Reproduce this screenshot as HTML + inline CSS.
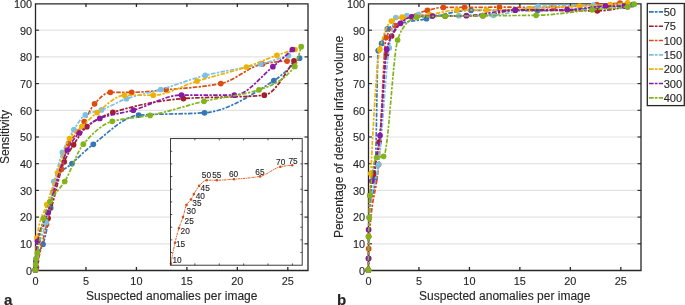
<!DOCTYPE html>
<html><head><meta charset="utf-8"><style>
html,body{margin:0;padding:0;background:#fff;width:685px;height:305px;overflow:hidden}
svg text{font-family:"Liberation Sans",sans-serif;fill:#262626;stroke:#262626;stroke-width:0.12px}
</style></head><body>
<svg width="685" height="305" viewBox="0 0 685 305" style="position:absolute;left:0;top:0;will-change:transform">
<line x1="35.5" x2="308" y1="243.8" y2="243.8" stroke="#e3e3e3" stroke-width="1.2"/>
<line x1="35.5" x2="308" y1="217.1" y2="217.1" stroke="#e3e3e3" stroke-width="1.2"/>
<line x1="35.5" x2="308" y1="190.4" y2="190.4" stroke="#e3e3e3" stroke-width="1.2"/>
<line x1="35.5" x2="308" y1="163.7" y2="163.7" stroke="#e3e3e3" stroke-width="1.2"/>
<line x1="35.5" x2="308" y1="137" y2="137" stroke="#e3e3e3" stroke-width="1.2"/>
<line x1="35.5" x2="308" y1="110.3" y2="110.3" stroke="#e3e3e3" stroke-width="1.2"/>
<line x1="35.5" x2="308" y1="83.6" y2="83.6" stroke="#e3e3e3" stroke-width="1.2"/>
<line x1="35.5" x2="308" y1="56.9" y2="56.9" stroke="#e3e3e3" stroke-width="1.2"/>
<line x1="35.5" x2="308" y1="30.2" y2="30.2" stroke="#e3e3e3" stroke-width="1.2"/>
<text x="35.5" y="284.6" font-size="10.9" text-anchor="middle">0</text>
<line x1="85.96" x2="85.96" y1="270.5" y2="267" stroke="#262626" stroke-width="1.3"/>
<line x1="85.96" x2="85.96" y1="3.5" y2="7" stroke="#262626" stroke-width="1.3"/>
<text x="85.96" y="284.6" font-size="10.9" text-anchor="middle">5</text>
<line x1="136.43" x2="136.43" y1="270.5" y2="267" stroke="#262626" stroke-width="1.3"/>
<line x1="136.43" x2="136.43" y1="3.5" y2="7" stroke="#262626" stroke-width="1.3"/>
<text x="136.43" y="284.6" font-size="10.9" text-anchor="middle">10</text>
<line x1="186.89" x2="186.89" y1="270.5" y2="267" stroke="#262626" stroke-width="1.3"/>
<line x1="186.89" x2="186.89" y1="3.5" y2="7" stroke="#262626" stroke-width="1.3"/>
<text x="186.89" y="284.6" font-size="10.9" text-anchor="middle">15</text>
<line x1="237.35" x2="237.35" y1="270.5" y2="267" stroke="#262626" stroke-width="1.3"/>
<line x1="237.35" x2="237.35" y1="3.5" y2="7" stroke="#262626" stroke-width="1.3"/>
<text x="237.35" y="284.6" font-size="10.9" text-anchor="middle">20</text>
<line x1="287.81" x2="287.81" y1="270.5" y2="267" stroke="#262626" stroke-width="1.3"/>
<line x1="287.81" x2="287.81" y1="3.5" y2="7" stroke="#262626" stroke-width="1.3"/>
<text x="287.81" y="284.6" font-size="10.9" text-anchor="middle">25</text>
<text x="32.1" y="274.85" font-size="10.9" text-anchor="end">0</text>
<line x1="35.5" x2="39" y1="243.8" y2="243.8" stroke="#262626" stroke-width="1.1"/>
<line x1="308" x2="304.5" y1="243.8" y2="243.8" stroke="#262626" stroke-width="1.1"/>
<text x="32.1" y="248.15" font-size="10.9" text-anchor="end">10</text>
<line x1="35.5" x2="39" y1="217.1" y2="217.1" stroke="#262626" stroke-width="1.1"/>
<line x1="308" x2="304.5" y1="217.1" y2="217.1" stroke="#262626" stroke-width="1.1"/>
<text x="32.1" y="221.45" font-size="10.9" text-anchor="end">20</text>
<line x1="35.5" x2="39" y1="190.4" y2="190.4" stroke="#262626" stroke-width="1.1"/>
<line x1="308" x2="304.5" y1="190.4" y2="190.4" stroke="#262626" stroke-width="1.1"/>
<text x="32.1" y="194.75" font-size="10.9" text-anchor="end">30</text>
<line x1="35.5" x2="39" y1="163.7" y2="163.7" stroke="#262626" stroke-width="1.1"/>
<line x1="308" x2="304.5" y1="163.7" y2="163.7" stroke="#262626" stroke-width="1.1"/>
<text x="32.1" y="168.05" font-size="10.9" text-anchor="end">40</text>
<line x1="35.5" x2="39" y1="137" y2="137" stroke="#262626" stroke-width="1.1"/>
<line x1="308" x2="304.5" y1="137" y2="137" stroke="#262626" stroke-width="1.1"/>
<text x="32.1" y="141.35" font-size="10.9" text-anchor="end">50</text>
<line x1="35.5" x2="39" y1="110.3" y2="110.3" stroke="#262626" stroke-width="1.1"/>
<line x1="308" x2="304.5" y1="110.3" y2="110.3" stroke="#262626" stroke-width="1.1"/>
<text x="32.1" y="114.65" font-size="10.9" text-anchor="end">60</text>
<line x1="35.5" x2="39" y1="83.6" y2="83.6" stroke="#262626" stroke-width="1.1"/>
<line x1="308" x2="304.5" y1="83.6" y2="83.6" stroke="#262626" stroke-width="1.1"/>
<text x="32.1" y="87.95" font-size="10.9" text-anchor="end">70</text>
<line x1="35.5" x2="39" y1="56.9" y2="56.9" stroke="#262626" stroke-width="1.1"/>
<line x1="308" x2="304.5" y1="56.9" y2="56.9" stroke="#262626" stroke-width="1.1"/>
<text x="32.1" y="61.25" font-size="10.9" text-anchor="end">80</text>
<line x1="35.5" x2="39" y1="30.2" y2="30.2" stroke="#262626" stroke-width="1.1"/>
<line x1="308" x2="304.5" y1="30.2" y2="30.2" stroke="#262626" stroke-width="1.1"/>
<text x="32.1" y="34.55" font-size="10.9" text-anchor="end">90</text>
<text x="32.1" y="7.85" font-size="10.9" text-anchor="end">100</text>
<path d="M35.5,3.8 H308 V270.5 H35.5 Z" fill="none" stroke="#262626" stroke-width="1.3"/>
<path d="M35.4,269.9 C35.67,265.98 35.93,260.33 36.2,259.1 C38.47,248.61 40.73,251 43,244.3 C45.57,236.71 48.13,223.26 50.7,207.9 C51.87,200.92 53.03,184.01 54.2,181.5 C60.13,168.74 66.07,169.17 72,163.5 C79.1,156.72 86.2,149.74 93.3,144.3 C108.4,132.74 123.5,116.3 138.6,115.2 C160.57,113.6 182.53,114.27 204.5,112.8 C227.6,111.25 250.7,95.39 273.8,80.7 C282.37,75.25 290.93,66.66 299.5,58.2" fill="none" stroke="rgb(52,118,184)" stroke-width="1.7" stroke-dasharray="4.5 1.4 2.3 1.4"/>
<circle cx="35.4" cy="269.9" r="2.85" fill="rgb(52,118,184)"/>
<circle cx="36.2" cy="259.1" r="2.85" fill="rgb(52,118,184)"/>
<circle cx="43" cy="244.3" r="2.85" fill="rgb(52,118,184)"/>
<circle cx="50.7" cy="207.9" r="2.85" fill="rgb(52,118,184)"/>
<circle cx="54.2" cy="181.5" r="2.85" fill="rgb(52,118,184)"/>
<circle cx="72" cy="163.5" r="2.85" fill="rgb(52,118,184)"/>
<circle cx="93.3" cy="144.3" r="2.85" fill="rgb(52,118,184)"/>
<circle cx="138.6" cy="115.2" r="2.85" fill="rgb(52,118,184)"/>
<circle cx="204.5" cy="112.8" r="2.85" fill="rgb(52,118,184)"/>
<circle cx="273.8" cy="80.7" r="2.85" fill="rgb(52,118,184)"/>
<circle cx="299.5" cy="58.2" r="2.85" fill="rgb(52,118,184)"/>
<path d="M35.4,269.9 C35.77,268.87 36.13,265.14 36.5,261 C36.87,256.86 37.23,242.27 37.6,240.5 C41.1,223.57 44.6,227.38 48.1,218.3 C53.47,204.38 58.83,174.26 64.2,161.8 C67.33,154.52 70.47,149.71 73.6,144.8 C78.03,137.86 82.47,130.34 86.9,126.7 C95.57,119.59 104.23,115.1 112.9,112.4 C136.4,105.08 159.9,100.25 183.4,98.6 C210.37,96.71 237.33,97.75 264.3,95.2 C274.2,94.26 284.1,75.23 294,60.8" fill="none" stroke="rgb(162,30,42)" stroke-width="1.7" stroke-dasharray="4.5 1.4 2.3 1.4"/>
<circle cx="35.4" cy="269.9" r="2.85" fill="rgb(162,30,42)"/>
<circle cx="36.5" cy="261" r="2.85" fill="rgb(162,30,42)"/>
<circle cx="37.6" cy="240.5" r="2.85" fill="rgb(162,30,42)"/>
<circle cx="48.1" cy="218.3" r="2.85" fill="rgb(162,30,42)"/>
<circle cx="64.2" cy="161.8" r="2.85" fill="rgb(162,30,42)"/>
<circle cx="73.6" cy="144.8" r="2.85" fill="rgb(162,30,42)"/>
<circle cx="86.9" cy="126.7" r="2.85" fill="rgb(162,30,42)"/>
<circle cx="112.9" cy="112.4" r="2.85" fill="rgb(162,30,42)"/>
<circle cx="183.4" cy="98.6" r="2.85" fill="rgb(162,30,42)"/>
<circle cx="264.3" cy="95.2" r="2.85" fill="rgb(162,30,42)"/>
<circle cx="294" cy="60.8" r="2.85" fill="rgb(162,30,42)"/>
<path d="M36.4,267.3 C39.77,254.15 43.13,239.58 46.5,224.2 C48.7,214.15 50.9,199.93 53.1,192.1 C55.87,182.26 58.63,177.85 61.4,169.2 C63.8,161.69 66.2,147.85 68.6,143.4 C71.7,137.65 74.8,136.52 77.9,132.1 C80,129.11 82.1,125.05 84.2,121.5 C87.67,115.64 91.13,107.45 94.6,103.8 C99.83,98.29 105.07,92.3 110.3,92.3 C117.43,92.3 124.57,92.3 131.7,92.3 C143.17,92.3 154.63,90.8 166.1,89.8 C184.33,88.21 202.57,87.02 220.8,83.6 C234.7,80.99 248.6,66.49 262.5,64 C270.7,62.53 278.9,61.1 287.1,61.1" fill="none" stroke="rgb(220,76,16)" stroke-width="1.7" stroke-dasharray="4.5 1.4 2.3 1.4"/>
<circle cx="36.4" cy="267.3" r="2.85" fill="rgb(220,76,16)"/>
<circle cx="46.5" cy="224.2" r="2.85" fill="rgb(220,76,16)"/>
<circle cx="53.1" cy="192.1" r="2.85" fill="rgb(220,76,16)"/>
<circle cx="61.4" cy="169.2" r="2.85" fill="rgb(220,76,16)"/>
<circle cx="68.6" cy="143.4" r="2.85" fill="rgb(220,76,16)"/>
<circle cx="77.9" cy="132.1" r="2.85" fill="rgb(220,76,16)"/>
<circle cx="84.2" cy="121.5" r="2.85" fill="rgb(220,76,16)"/>
<circle cx="94.6" cy="103.8" r="2.85" fill="rgb(220,76,16)"/>
<circle cx="110.3" cy="92.3" r="2.85" fill="rgb(220,76,16)"/>
<circle cx="131.7" cy="92.3" r="2.85" fill="rgb(220,76,16)"/>
<circle cx="166.1" cy="89.8" r="2.85" fill="rgb(220,76,16)"/>
<circle cx="220.8" cy="83.6" r="2.85" fill="rgb(220,76,16)"/>
<circle cx="262.5" cy="64" r="2.85" fill="rgb(220,76,16)"/>
<circle cx="287.1" cy="61.1" r="2.85" fill="rgb(220,76,16)"/>
<path d="M35.4,269.9 C35.7,265.69 36,260.03 36.3,258 C39.57,235.85 42.83,236.18 46.1,222.3 C48.8,210.83 51.5,192.75 54.2,181.5 C56.93,170.11 59.67,159.45 62.4,152.4 C66.23,142.52 70.07,135.7 73.9,129.7 C77.7,123.75 81.5,116.87 85.3,114.9 C90.7,112.11 96.1,111.85 101.5,109.9 C109.8,106.9 118.1,101.52 126.4,98.7 C137.87,94.8 149.33,92.82 160.8,89.5 C175.6,85.22 190.4,79.12 205.2,75.4 C223.73,70.74 242.27,68.67 260.8,64 C270,61.68 279.2,58.65 288.4,55.5" fill="none" stroke="rgb(125,192,228)" stroke-width="1.7" stroke-dasharray="4.5 1.4 2.3 1.4"/>
<circle cx="35.4" cy="269.9" r="2.85" fill="rgb(125,192,228)"/>
<circle cx="36.3" cy="258" r="2.85" fill="rgb(125,192,228)"/>
<circle cx="46.1" cy="222.3" r="2.85" fill="rgb(125,192,228)"/>
<circle cx="54.2" cy="181.5" r="2.85" fill="rgb(125,192,228)"/>
<circle cx="62.4" cy="152.4" r="2.85" fill="rgb(125,192,228)"/>
<circle cx="73.9" cy="129.7" r="2.85" fill="rgb(125,192,228)"/>
<circle cx="85.3" cy="114.9" r="2.85" fill="rgb(125,192,228)"/>
<circle cx="101.5" cy="109.9" r="2.85" fill="rgb(125,192,228)"/>
<circle cx="126.4" cy="98.7" r="2.85" fill="rgb(125,192,228)"/>
<circle cx="160.8" cy="89.5" r="2.85" fill="rgb(125,192,228)"/>
<circle cx="205.2" cy="75.4" r="2.85" fill="rgb(125,192,228)"/>
<circle cx="260.8" cy="64" r="2.85" fill="rgb(125,192,228)"/>
<circle cx="288.4" cy="55.5" r="2.85" fill="rgb(125,192,228)"/>
<path d="M35.4,269.9 C35.9,258.09 36.4,241.54 36.9,238 C40.2,214.61 43.5,215.04 46.8,204.6 C50.37,193.32 53.93,183.2 57.5,172.8 C61.5,161.14 65.5,144.26 69.5,138.5 C73.6,132.6 77.7,130.56 81.8,126.7 C86.9,121.9 92,116.49 97.1,112.6 C106.23,105.63 115.37,95.36 124.5,95.3 C134.07,95.23 143.63,95.26 153.2,95.2 C167.83,95.11 182.47,85.53 197.1,81.1 C213.53,76.12 229.97,72.45 246.4,67 C256.57,63.63 266.73,58.82 276.9,55.3 C282.93,53.21 288.97,51.29 295,49.5" fill="none" stroke="rgb(239,178,4)" stroke-width="1.7" stroke-dasharray="4.5 1.4 2.3 1.4"/>
<circle cx="35.4" cy="269.9" r="2.85" fill="rgb(239,178,4)"/>
<circle cx="36.9" cy="238" r="2.85" fill="rgb(239,178,4)"/>
<circle cx="46.8" cy="204.6" r="2.85" fill="rgb(239,178,4)"/>
<circle cx="57.5" cy="172.8" r="2.85" fill="rgb(239,178,4)"/>
<circle cx="69.5" cy="138.5" r="2.85" fill="rgb(239,178,4)"/>
<circle cx="81.8" cy="126.7" r="2.85" fill="rgb(239,178,4)"/>
<circle cx="97.1" cy="112.6" r="2.85" fill="rgb(239,178,4)"/>
<circle cx="124.5" cy="95.3" r="2.85" fill="rgb(239,178,4)"/>
<circle cx="153.2" cy="95.2" r="2.85" fill="rgb(239,178,4)"/>
<circle cx="197.1" cy="81.1" r="2.85" fill="rgb(239,178,4)"/>
<circle cx="246.4" cy="67" r="2.85" fill="rgb(239,178,4)"/>
<circle cx="276.9" cy="55.3" r="2.85" fill="rgb(239,178,4)"/>
<circle cx="295" cy="49.5" r="2.85" fill="rgb(239,178,4)"/>
<path d="M35.4,269.9 C35.57,269.9 35.73,269.2 35.9,267.2 C35.93,266.8 35.97,262.61 36,261.8 C36.57,248.04 37.13,244.38 37.7,241.3 C41.03,223.17 44.37,222.53 47.7,212.5 C54.23,192.83 60.77,162.36 67.3,150 C71.33,142.37 75.37,136.93 79.4,133 C86.2,126.37 93,120.98 99.8,118.4 C110.97,114.16 122.13,113.25 133.3,110.2 C149.37,105.82 165.43,95.1 181.5,95.1 C199.1,95.1 216.7,95.2 234.3,95.2 C247.17,95.2 260.03,77.14 272.9,66.7 C279.4,61.42 285.9,55.55 292.4,49.5" fill="none" stroke="rgb(135,25,165)" stroke-width="1.7" stroke-dasharray="4.5 1.4 2.3 1.4"/>
<circle cx="35.4" cy="269.9" r="2.85" fill="rgb(135,25,165)"/>
<circle cx="35.9" cy="267.2" r="2.85" fill="rgb(135,25,165)"/>
<circle cx="36" cy="261.8" r="2.85" fill="rgb(135,25,165)"/>
<circle cx="37.7" cy="241.3" r="2.85" fill="rgb(135,25,165)"/>
<circle cx="47.7" cy="212.5" r="2.85" fill="rgb(135,25,165)"/>
<circle cx="67.3" cy="150" r="2.85" fill="rgb(135,25,165)"/>
<circle cx="79.4" cy="133" r="2.85" fill="rgb(135,25,165)"/>
<circle cx="99.8" cy="118.4" r="2.85" fill="rgb(135,25,165)"/>
<circle cx="133.3" cy="110.2" r="2.85" fill="rgb(135,25,165)"/>
<circle cx="181.5" cy="95.1" r="2.85" fill="rgb(135,25,165)"/>
<circle cx="234.3" cy="95.2" r="2.85" fill="rgb(135,25,165)"/>
<circle cx="272.9" cy="66.7" r="2.85" fill="rgb(135,25,165)"/>
<circle cx="292.4" cy="49.5" r="2.85" fill="rgb(135,25,165)"/>
<path d="M35.4,269.9 C35.5,267.78 35.6,265.77 35.7,264.4 C35.87,262.11 36.03,260.34 36.2,259.1 C36.57,256.38 36.93,255.18 37.3,253.2 C39.43,241.69 41.57,225.9 43.7,218.3 C45.8,210.82 47.9,205.56 50,201.6 C54.9,192.37 59.8,189.41 64.7,181.5 C70.9,171.49 77.1,151.46 83.3,144.2 C92.97,132.89 102.63,123.9 112.3,121.3 C124.9,117.92 137.5,117.83 150.1,115.4 C168.07,111.94 186.03,105.48 204,101.3 C222.33,97.04 240.67,95.82 259,89.8 C270.93,85.88 282.87,81.62 294.8,66.5 C296.93,63.8 299.07,54.09 301.2,46.7" fill="none" stroke="rgb(130,180,25)" stroke-width="1.7" stroke-dasharray="4.5 1.4 2.3 1.4"/>
<circle cx="35.4" cy="269.9" r="2.85" fill="rgb(130,180,25)"/>
<circle cx="35.7" cy="264.4" r="2.85" fill="rgb(130,180,25)"/>
<circle cx="36.2" cy="259.1" r="2.85" fill="rgb(130,180,25)"/>
<circle cx="37.3" cy="253.2" r="2.85" fill="rgb(130,180,25)"/>
<circle cx="43.7" cy="218.3" r="2.85" fill="rgb(130,180,25)"/>
<circle cx="50" cy="201.6" r="2.85" fill="rgb(130,180,25)"/>
<circle cx="64.7" cy="181.5" r="2.85" fill="rgb(130,180,25)"/>
<circle cx="83.3" cy="144.2" r="2.85" fill="rgb(130,180,25)"/>
<circle cx="112.3" cy="121.3" r="2.85" fill="rgb(130,180,25)"/>
<circle cx="150.1" cy="115.4" r="2.85" fill="rgb(130,180,25)"/>
<circle cx="204" cy="101.3" r="2.85" fill="rgb(130,180,25)"/>
<circle cx="259" cy="89.8" r="2.85" fill="rgb(130,180,25)"/>
<circle cx="294.8" cy="66.5" r="2.85" fill="rgb(130,180,25)"/>
<circle cx="301.2" cy="46.7" r="2.85" fill="rgb(130,180,25)"/>
<text x="171.75" y="299.6" font-size="12.0" text-anchor="middle">Suspected anomalies per image</text>
<line x1="368.5" x2="641" y1="243.8" y2="243.8" stroke="#e3e3e3" stroke-width="1.2"/>
<line x1="368.5" x2="641" y1="217.1" y2="217.1" stroke="#e3e3e3" stroke-width="1.2"/>
<line x1="368.5" x2="641" y1="190.4" y2="190.4" stroke="#e3e3e3" stroke-width="1.2"/>
<line x1="368.5" x2="641" y1="163.7" y2="163.7" stroke="#e3e3e3" stroke-width="1.2"/>
<line x1="368.5" x2="641" y1="137" y2="137" stroke="#e3e3e3" stroke-width="1.2"/>
<line x1="368.5" x2="641" y1="110.3" y2="110.3" stroke="#e3e3e3" stroke-width="1.2"/>
<line x1="368.5" x2="641" y1="83.6" y2="83.6" stroke="#e3e3e3" stroke-width="1.2"/>
<line x1="368.5" x2="641" y1="56.9" y2="56.9" stroke="#e3e3e3" stroke-width="1.2"/>
<line x1="368.5" x2="641" y1="30.2" y2="30.2" stroke="#e3e3e3" stroke-width="1.2"/>
<text x="368.5" y="284.6" font-size="10.9" text-anchor="middle">0</text>
<line x1="418.96" x2="418.96" y1="270.5" y2="267" stroke="#262626" stroke-width="1.3"/>
<line x1="418.96" x2="418.96" y1="3.5" y2="7" stroke="#262626" stroke-width="1.3"/>
<text x="418.96" y="284.6" font-size="10.9" text-anchor="middle">5</text>
<line x1="469.43" x2="469.43" y1="270.5" y2="267" stroke="#262626" stroke-width="1.3"/>
<line x1="469.43" x2="469.43" y1="3.5" y2="7" stroke="#262626" stroke-width="1.3"/>
<text x="469.43" y="284.6" font-size="10.9" text-anchor="middle">10</text>
<line x1="519.89" x2="519.89" y1="270.5" y2="267" stroke="#262626" stroke-width="1.3"/>
<line x1="519.89" x2="519.89" y1="3.5" y2="7" stroke="#262626" stroke-width="1.3"/>
<text x="519.89" y="284.6" font-size="10.9" text-anchor="middle">15</text>
<line x1="570.35" x2="570.35" y1="270.5" y2="267" stroke="#262626" stroke-width="1.3"/>
<line x1="570.35" x2="570.35" y1="3.5" y2="7" stroke="#262626" stroke-width="1.3"/>
<text x="570.35" y="284.6" font-size="10.9" text-anchor="middle">20</text>
<line x1="620.81" x2="620.81" y1="270.5" y2="267" stroke="#262626" stroke-width="1.3"/>
<line x1="620.81" x2="620.81" y1="3.5" y2="7" stroke="#262626" stroke-width="1.3"/>
<text x="620.81" y="284.6" font-size="10.9" text-anchor="middle">25</text>
<text x="365.1" y="274.85" font-size="10.9" text-anchor="end">0</text>
<line x1="368.5" x2="372" y1="243.8" y2="243.8" stroke="#262626" stroke-width="1.1"/>
<line x1="641" x2="637.5" y1="243.8" y2="243.8" stroke="#262626" stroke-width="1.1"/>
<text x="365.1" y="248.15" font-size="10.9" text-anchor="end">10</text>
<line x1="368.5" x2="372" y1="217.1" y2="217.1" stroke="#262626" stroke-width="1.1"/>
<line x1="641" x2="637.5" y1="217.1" y2="217.1" stroke="#262626" stroke-width="1.1"/>
<text x="365.1" y="221.45" font-size="10.9" text-anchor="end">20</text>
<line x1="368.5" x2="372" y1="190.4" y2="190.4" stroke="#262626" stroke-width="1.1"/>
<line x1="641" x2="637.5" y1="190.4" y2="190.4" stroke="#262626" stroke-width="1.1"/>
<text x="365.1" y="194.75" font-size="10.9" text-anchor="end">30</text>
<line x1="368.5" x2="372" y1="163.7" y2="163.7" stroke="#262626" stroke-width="1.1"/>
<line x1="641" x2="637.5" y1="163.7" y2="163.7" stroke="#262626" stroke-width="1.1"/>
<text x="365.1" y="168.05" font-size="10.9" text-anchor="end">40</text>
<line x1="368.5" x2="372" y1="137" y2="137" stroke="#262626" stroke-width="1.1"/>
<line x1="641" x2="637.5" y1="137" y2="137" stroke="#262626" stroke-width="1.1"/>
<text x="365.1" y="141.35" font-size="10.9" text-anchor="end">50</text>
<line x1="368.5" x2="372" y1="110.3" y2="110.3" stroke="#262626" stroke-width="1.1"/>
<line x1="641" x2="637.5" y1="110.3" y2="110.3" stroke="#262626" stroke-width="1.1"/>
<text x="365.1" y="114.65" font-size="10.9" text-anchor="end">60</text>
<line x1="368.5" x2="372" y1="83.6" y2="83.6" stroke="#262626" stroke-width="1.1"/>
<line x1="641" x2="637.5" y1="83.6" y2="83.6" stroke="#262626" stroke-width="1.1"/>
<text x="365.1" y="87.95" font-size="10.9" text-anchor="end">70</text>
<line x1="368.5" x2="372" y1="56.9" y2="56.9" stroke="#262626" stroke-width="1.1"/>
<line x1="641" x2="637.5" y1="56.9" y2="56.9" stroke="#262626" stroke-width="1.1"/>
<text x="365.1" y="61.25" font-size="10.9" text-anchor="end">80</text>
<line x1="368.5" x2="372" y1="30.2" y2="30.2" stroke="#262626" stroke-width="1.1"/>
<line x1="641" x2="637.5" y1="30.2" y2="30.2" stroke="#262626" stroke-width="1.1"/>
<text x="365.1" y="34.55" font-size="10.9" text-anchor="end">90</text>
<text x="365.1" y="7.85" font-size="10.9" text-anchor="end">100</text>
<path d="M368.5,3.8 H641 V270.5 H368.5 Z" fill="none" stroke="#262626" stroke-width="1.3"/>
<path d="M368.3,270.2 C368.4,267.23 368.5,263.24 368.6,258.4 C368.8,248.71 369,220.61 369.2,217.5 C371.17,186.97 373.13,202.73 375.1,178.5 C376.13,165.77 377.17,54.67 378.2,50.5 C379.33,45.93 380.47,45.97 381.6,43.4 C383.53,39.02 385.47,29.93 387.4,28.8 C400.43,21.16 413.47,21.55 426.5,18.7 C441.33,15.45 456.17,10.3 471,10.3 C493.17,10.3 515.33,10.6 537.5,10.6 C569.1,10.6 600.7,7.91 632.3,4.7" fill="none" stroke="rgb(52,118,184)" stroke-width="1.7" stroke-dasharray="4.5 1.4 2.3 1.4"/>
<circle cx="368.3" cy="270.2" r="2.85" fill="rgb(52,118,184)"/>
<circle cx="368.6" cy="258.4" r="2.85" fill="rgb(52,118,184)"/>
<circle cx="369.2" cy="217.5" r="2.85" fill="rgb(52,118,184)"/>
<circle cx="375.1" cy="178.5" r="2.85" fill="rgb(52,118,184)"/>
<circle cx="378.2" cy="50.5" r="2.85" fill="rgb(52,118,184)"/>
<circle cx="381.6" cy="43.4" r="2.85" fill="rgb(52,118,184)"/>
<circle cx="387.4" cy="28.8" r="2.85" fill="rgb(52,118,184)"/>
<circle cx="426.5" cy="18.7" r="2.85" fill="rgb(52,118,184)"/>
<circle cx="471" cy="10.3" r="2.85" fill="rgb(52,118,184)"/>
<circle cx="537.5" cy="10.6" r="2.85" fill="rgb(52,118,184)"/>
<circle cx="632.3" cy="4.7" r="2.85" fill="rgb(52,118,184)"/>
<path d="M368.3,270.2 C368.4,257.45 368.5,242.08 368.6,236.5 C369.03,212.33 369.47,200.11 369.9,195.5 C371.2,181.68 372.5,181.41 373.8,174 C375.6,163.74 377.4,156.1 379.2,142 C381.6,123.19 384,67.48 386.4,54.6 C388.13,45.29 389.87,38.94 391.6,36 C398.33,24.58 405.07,17.1 411.8,16.8 C422.9,16.3 434,16.26 445.1,16.1 C457.7,15.92 470.3,15.96 482.9,15.7 C493.67,15.48 504.43,10.2 515.2,10.2 C542.57,10.2 569.93,10.8 597.3,10.8 C607.4,10.8 617.5,8.45 627.6,6.7" fill="none" stroke="rgb(162,30,42)" stroke-width="1.7" stroke-dasharray="4.5 1.4 2.3 1.4"/>
<circle cx="368.3" cy="270.2" r="2.85" fill="rgb(162,30,42)"/>
<circle cx="368.6" cy="236.5" r="2.85" fill="rgb(162,30,42)"/>
<circle cx="369.9" cy="195.5" r="2.85" fill="rgb(162,30,42)"/>
<circle cx="373.8" cy="174" r="2.85" fill="rgb(162,30,42)"/>
<circle cx="379.2" cy="142" r="2.85" fill="rgb(162,30,42)"/>
<circle cx="386.4" cy="54.6" r="2.85" fill="rgb(162,30,42)"/>
<circle cx="391.6" cy="36" r="2.85" fill="rgb(162,30,42)"/>
<circle cx="411.8" cy="16.8" r="2.85" fill="rgb(162,30,42)"/>
<circle cx="445.1" cy="16.1" r="2.85" fill="rgb(162,30,42)"/>
<circle cx="482.9" cy="15.7" r="2.85" fill="rgb(162,30,42)"/>
<circle cx="515.2" cy="10.2" r="2.85" fill="rgb(162,30,42)"/>
<circle cx="597.3" cy="10.8" r="2.85" fill="rgb(162,30,42)"/>
<circle cx="627.6" cy="6.7" r="2.85" fill="rgb(162,30,42)"/>
<path d="M368.3,270.2 C368.43,262.8 368.57,251.22 368.7,248.7 C372,186.35 375.3,202.32 378.6,164.6 C381.13,135.64 383.67,43.91 386.2,37.5 C389.2,29.91 392.2,27.79 395.2,25.5 C405.93,17.32 416.67,13.16 427.4,10.4 C432.7,9.04 438,7.4 443.3,7.4 C450.4,7.4 457.5,7.4 464.6,7.4 C476.23,7.4 487.87,7.2 499.5,7.2 C517.5,7.2 535.5,7.4 553.5,7.4 C567.9,7.4 582.3,5.53 596.7,4.6 C604.47,4.1 612.23,3.6 620,3.1" fill="none" stroke="rgb(220,76,16)" stroke-width="1.7" stroke-dasharray="4.5 1.4 2.3 1.4"/>
<circle cx="368.3" cy="270.2" r="2.85" fill="rgb(220,76,16)"/>
<circle cx="368.7" cy="248.7" r="2.85" fill="rgb(220,76,16)"/>
<circle cx="378.6" cy="164.6" r="2.85" fill="rgb(220,76,16)"/>
<circle cx="386.2" cy="37.5" r="2.85" fill="rgb(220,76,16)"/>
<circle cx="395.2" cy="25.5" r="2.85" fill="rgb(220,76,16)"/>
<circle cx="427.4" cy="10.4" r="2.85" fill="rgb(220,76,16)"/>
<circle cx="443.3" cy="7.4" r="2.85" fill="rgb(220,76,16)"/>
<circle cx="464.6" cy="7.4" r="2.85" fill="rgb(220,76,16)"/>
<circle cx="499.5" cy="7.2" r="2.85" fill="rgb(220,76,16)"/>
<circle cx="553.5" cy="7.4" r="2.85" fill="rgb(220,76,16)"/>
<circle cx="596.7" cy="4.6" r="2.85" fill="rgb(220,76,16)"/>
<circle cx="620" cy="3.1" r="2.85" fill="rgb(220,76,16)"/>
<path d="M368.3,270.2 C368.6,251.25 368.9,221.48 369.2,217.5 C372.33,175.89 375.47,187.79 378.6,164.6 C382.13,138.45 385.67,70.14 389.2,47.9 C391.4,34.05 393.6,18.33 395.8,17.5 C399.5,16.11 403.2,15.87 406.9,15.5 C410.73,15.11 414.57,14.7 418.4,14.7 C431.87,14.7 445.33,15.7 458.8,15.7 C470.33,15.7 481.87,15.54 493.4,15.3 C508.33,14.99 523.27,6.86 538.2,6.3 C556.6,5.61 575,5.2 593.4,5.2 C602.57,5.2 611.73,5.81 620.9,6.4" fill="none" stroke="rgb(125,192,228)" stroke-width="1.7" stroke-dasharray="4.5 1.4 2.3 1.4"/>
<circle cx="368.3" cy="270.2" r="2.85" fill="rgb(125,192,228)"/>
<circle cx="369.2" cy="217.5" r="2.85" fill="rgb(125,192,228)"/>
<circle cx="378.6" cy="164.6" r="2.85" fill="rgb(125,192,228)"/>
<circle cx="389.2" cy="47.9" r="2.85" fill="rgb(125,192,228)"/>
<circle cx="395.8" cy="17.5" r="2.85" fill="rgb(125,192,228)"/>
<circle cx="406.9" cy="15.5" r="2.85" fill="rgb(125,192,228)"/>
<circle cx="418.4" cy="14.7" r="2.85" fill="rgb(125,192,228)"/>
<circle cx="458.8" cy="15.7" r="2.85" fill="rgb(125,192,228)"/>
<circle cx="493.4" cy="15.3" r="2.85" fill="rgb(125,192,228)"/>
<circle cx="538.2" cy="6.3" r="2.85" fill="rgb(125,192,228)"/>
<circle cx="593.4" cy="5.2" r="2.85" fill="rgb(125,192,228)"/>
<circle cx="620.9" cy="6.4" r="2.85" fill="rgb(125,192,228)"/>
<path d="M368.3,270.2 C368.4,257.96 368.5,241.87 368.6,236.5 C369.33,197.11 370.07,188.19 370.8,173.5 C373.8,113.4 376.8,62.21 379.8,49.4 C383.67,32.88 387.53,23.51 391.4,21.1 C395,18.86 398.6,17.78 402.2,17.2 C411.3,15.75 420.4,15.78 429.5,14.7 C438.67,13.62 447.83,10.1 457,10.1 C466.83,10.1 476.67,10.1 486.5,10.1 C500.97,10.1 515.43,9.28 529.9,8.7 C546.4,8.04 562.9,6.93 579.4,6.1 C589.63,5.58 599.87,5.3 610.1,4.6 C615.93,4.2 621.77,3.51 627.6,2.8" fill="none" stroke="rgb(239,178,4)" stroke-width="1.7" stroke-dasharray="4.5 1.4 2.3 1.4"/>
<circle cx="368.3" cy="270.2" r="2.85" fill="rgb(239,178,4)"/>
<circle cx="368.6" cy="236.5" r="2.85" fill="rgb(239,178,4)"/>
<circle cx="370.8" cy="173.5" r="2.85" fill="rgb(239,178,4)"/>
<circle cx="379.8" cy="49.4" r="2.85" fill="rgb(239,178,4)"/>
<circle cx="391.4" cy="21.1" r="2.85" fill="rgb(239,178,4)"/>
<circle cx="402.2" cy="17.2" r="2.85" fill="rgb(239,178,4)"/>
<circle cx="429.5" cy="14.7" r="2.85" fill="rgb(239,178,4)"/>
<circle cx="457" cy="10.1" r="2.85" fill="rgb(239,178,4)"/>
<circle cx="486.5" cy="10.1" r="2.85" fill="rgb(239,178,4)"/>
<circle cx="529.9" cy="8.7" r="2.85" fill="rgb(239,178,4)"/>
<circle cx="579.4" cy="6.1" r="2.85" fill="rgb(239,178,4)"/>
<circle cx="610.1" cy="4.6" r="2.85" fill="rgb(239,178,4)"/>
<circle cx="627.6" cy="2.8" r="2.85" fill="rgb(239,178,4)"/>
<path d="M368.3,270.2 C368.37,270.2 368.43,265.44 368.5,258.4 C368.53,254.88 368.57,231 368.6,229.7 C369.7,186.71 370.8,190.65 371.9,181.1 C374.6,157.67 377.3,156.98 380,135.6 C382.23,117.92 384.47,57.47 386.7,49.4 C391.27,32.89 395.83,27.39 400.4,23.4 C404.2,20.08 408,17.07 411.8,16.8 C418.7,16.32 425.6,16.23 432.5,16.1 C443.8,15.89 455.1,15.93 466.4,15.7 C482.67,15.37 498.93,10.02 515.2,9.9 C532.53,9.77 549.87,9.83 567.2,9.7 C579.97,9.6 592.73,6.32 605.5,6.2 C611.83,6.14 618.17,6.1 624.5,6.1" fill="none" stroke="rgb(135,25,165)" stroke-width="1.7" stroke-dasharray="4.5 1.4 2.3 1.4"/>
<circle cx="368.3" cy="270.2" r="2.85" fill="rgb(135,25,165)"/>
<circle cx="368.5" cy="258.4" r="2.85" fill="rgb(135,25,165)"/>
<circle cx="368.6" cy="229.7" r="2.85" fill="rgb(135,25,165)"/>
<circle cx="371.9" cy="181.1" r="2.85" fill="rgb(135,25,165)"/>
<circle cx="380" cy="135.6" r="2.85" fill="rgb(135,25,165)"/>
<circle cx="386.7" cy="49.4" r="2.85" fill="rgb(135,25,165)"/>
<circle cx="400.4" cy="23.4" r="2.85" fill="rgb(135,25,165)"/>
<circle cx="411.8" cy="16.8" r="2.85" fill="rgb(135,25,165)"/>
<circle cx="432.5" cy="16.1" r="2.85" fill="rgb(135,25,165)"/>
<circle cx="466.4" cy="15.7" r="2.85" fill="rgb(135,25,165)"/>
<circle cx="515.2" cy="9.9" r="2.85" fill="rgb(135,25,165)"/>
<circle cx="567.2" cy="9.7" r="2.85" fill="rgb(135,25,165)"/>
<circle cx="605.5" cy="6.2" r="2.85" fill="rgb(135,25,165)"/>
<circle cx="624.5" cy="6.1" r="2.85" fill="rgb(135,25,165)"/>
<path d="M368.3,270.2 C368.4,256.28 368.5,241.77 368.6,236.5 C368.8,225.96 369,223.81 369.2,217.5 C369.43,210.14 369.67,198.26 369.9,195.5 C372.13,169.08 374.37,158.25 376.6,157.5 C378.93,156.72 381.27,157.01 383.6,156.3 C388.27,154.88 392.93,55.76 397.6,40.1 C399.07,35.18 400.53,32.22 402,29.7 C404,26.27 406,23.5 408,21.8 C409.73,20.33 411.47,19.3 413.2,18.5 C414.37,17.96 415.53,17.3 416.7,17.2 C426.17,16.36 435.63,16.26 445.1,16.1 C457.7,15.88 470.3,15.81 482.9,15.7 C500.63,15.54 518.37,15.55 536.1,15.3 C554.77,15.04 573.43,11.52 592.1,9.8 C603.93,8.71 615.77,8.66 627.6,6.7 C629.8,6.34 632,5.13 634.2,4.2" fill="none" stroke="rgb(130,180,25)" stroke-width="1.7" stroke-dasharray="4.5 1.4 2.3 1.4"/>
<circle cx="368.3" cy="270.2" r="2.85" fill="rgb(130,180,25)"/>
<circle cx="368.6" cy="236.5" r="2.85" fill="rgb(130,180,25)"/>
<circle cx="369.2" cy="217.5" r="2.85" fill="rgb(130,180,25)"/>
<circle cx="369.9" cy="195.5" r="2.85" fill="rgb(130,180,25)"/>
<circle cx="376.6" cy="157.5" r="2.85" fill="rgb(130,180,25)"/>
<circle cx="383.6" cy="156.3" r="2.85" fill="rgb(130,180,25)"/>
<circle cx="397.6" cy="40.1" r="2.85" fill="rgb(130,180,25)"/>
<circle cx="416.7" cy="17.2" r="2.85" fill="rgb(130,180,25)"/>
<circle cx="445.1" cy="16.1" r="2.85" fill="rgb(130,180,25)"/>
<circle cx="482.9" cy="15.7" r="2.85" fill="rgb(130,180,25)"/>
<circle cx="536.1" cy="15.3" r="2.85" fill="rgb(130,180,25)"/>
<circle cx="592.1" cy="9.8" r="2.85" fill="rgb(130,180,25)"/>
<circle cx="627.6" cy="6.7" r="2.85" fill="rgb(130,180,25)"/>
<circle cx="634.2" cy="4.2" r="2.85" fill="rgb(130,180,25)"/>
<text x="504.75" y="299.6" font-size="12.0" text-anchor="middle">Suspected anomalies per image</text>
<text transform="translate(9.05,137) rotate(-90)" font-size="12.0" text-anchor="middle">Sensitivity</text>
<text transform="translate(342.5,137) rotate(-90)" font-size="12.0" text-anchor="middle">Percentage of detected infarct volume</text>
<text transform="translate(4.1,304.9) scale(1.08,1)" font-size="14" font-weight="bold">a</text>
<text transform="translate(337.0,304.9) scale(1.08,1)" font-size="14" font-weight="bold">b</text>
<rect x="170.45" y="138.6" width="131.75" height="126.6" fill="#fff"/>
<line x1="194.85" x2="194.85" y1="265.2" y2="263.4" stroke="#262626" stroke-width="0.8"/>
<line x1="194.85" x2="194.85" y1="138.6" y2="140.4" stroke="#262626" stroke-width="0.8"/>
<line x1="219.25" x2="219.25" y1="265.2" y2="263.4" stroke="#262626" stroke-width="0.8"/>
<line x1="219.25" x2="219.25" y1="138.6" y2="140.4" stroke="#262626" stroke-width="0.8"/>
<line x1="243.64" x2="243.64" y1="265.2" y2="263.4" stroke="#262626" stroke-width="0.8"/>
<line x1="243.64" x2="243.64" y1="138.6" y2="140.4" stroke="#262626" stroke-width="0.8"/>
<line x1="268.04" x2="268.04" y1="265.2" y2="263.4" stroke="#262626" stroke-width="0.8"/>
<line x1="268.04" x2="268.04" y1="138.6" y2="140.4" stroke="#262626" stroke-width="0.8"/>
<line x1="292.44" x2="292.44" y1="265.2" y2="263.4" stroke="#262626" stroke-width="0.8"/>
<line x1="292.44" x2="292.44" y1="138.6" y2="140.4" stroke="#262626" stroke-width="0.8"/>
<line x1="170.45" x2="172.25" y1="252.54" y2="252.54" stroke="#262626" stroke-width="0.8"/>
<line x1="302.2" x2="300.4" y1="252.54" y2="252.54" stroke="#262626" stroke-width="0.8"/>
<line x1="170.45" x2="172.25" y1="239.88" y2="239.88" stroke="#262626" stroke-width="0.8"/>
<line x1="302.2" x2="300.4" y1="239.88" y2="239.88" stroke="#262626" stroke-width="0.8"/>
<line x1="170.45" x2="172.25" y1="227.22" y2="227.22" stroke="#262626" stroke-width="0.8"/>
<line x1="302.2" x2="300.4" y1="227.22" y2="227.22" stroke="#262626" stroke-width="0.8"/>
<line x1="170.45" x2="172.25" y1="214.56" y2="214.56" stroke="#262626" stroke-width="0.8"/>
<line x1="302.2" x2="300.4" y1="214.56" y2="214.56" stroke="#262626" stroke-width="0.8"/>
<line x1="170.45" x2="172.25" y1="201.9" y2="201.9" stroke="#262626" stroke-width="0.8"/>
<line x1="302.2" x2="300.4" y1="201.9" y2="201.9" stroke="#262626" stroke-width="0.8"/>
<line x1="170.45" x2="172.25" y1="189.24" y2="189.24" stroke="#262626" stroke-width="0.8"/>
<line x1="302.2" x2="300.4" y1="189.24" y2="189.24" stroke="#262626" stroke-width="0.8"/>
<line x1="170.45" x2="172.25" y1="176.58" y2="176.58" stroke="#262626" stroke-width="0.8"/>
<line x1="302.2" x2="300.4" y1="176.58" y2="176.58" stroke="#262626" stroke-width="0.8"/>
<line x1="170.45" x2="172.25" y1="163.92" y2="163.92" stroke="#262626" stroke-width="0.8"/>
<line x1="302.2" x2="300.4" y1="163.92" y2="163.92" stroke="#262626" stroke-width="0.8"/>
<line x1="170.45" x2="172.25" y1="151.26" y2="151.26" stroke="#262626" stroke-width="0.8"/>
<line x1="302.2" x2="300.4" y1="151.26" y2="151.26" stroke="#262626" stroke-width="0.8"/>
<path d="M170.9,263.7 C172.27,255.77 173.63,248.66 175,242.8 C176.33,237.09 177.67,232.18 179,228 C180.33,223.82 181.67,221.19 183,217.1 C184.17,213.52 185.33,207.03 186.5,204.9 C188,202.17 189.5,201.72 191,199.5 C191.97,198.07 192.93,195.76 193.9,194.1 C195.63,191.12 197.37,187.7 199.1,185.9 C201.63,183.27 204.17,180.2 206.7,180.2 C210.1,180.2 213.5,180.2 216.9,180.2 C222.57,180.2 228.23,179.62 233.9,179.2 C242.63,178.55 251.37,177.96 260.1,176.4 C266.87,175.19 273.63,168.09 280.4,166.8 C284.33,166.05 288.27,165.3 292.2,165.3" fill="none" stroke="rgb(220,76,16)" stroke-width="0.9" stroke-dasharray="2.4 0.7 1 0.7"/>
<circle cx="170.9" cy="263.7" r="1.3" fill="rgb(220,76,16)"/>
<circle cx="175" cy="242.8" r="1.3" fill="rgb(220,76,16)"/>
<circle cx="179" cy="228" r="1.3" fill="rgb(220,76,16)"/>
<circle cx="183" cy="217.1" r="1.3" fill="rgb(220,76,16)"/>
<circle cx="186.5" cy="204.9" r="1.3" fill="rgb(220,76,16)"/>
<circle cx="191" cy="199.5" r="1.3" fill="rgb(220,76,16)"/>
<circle cx="193.9" cy="194.1" r="1.3" fill="rgb(220,76,16)"/>
<circle cx="199.1" cy="185.9" r="1.3" fill="rgb(220,76,16)"/>
<circle cx="206.7" cy="180.2" r="1.3" fill="rgb(220,76,16)"/>
<circle cx="216.9" cy="180.2" r="1.3" fill="rgb(220,76,16)"/>
<circle cx="233.9" cy="179.2" r="1.3" fill="rgb(220,76,16)"/>
<circle cx="260.1" cy="176.4" r="1.3" fill="rgb(220,76,16)"/>
<circle cx="280.4" cy="166.8" r="1.3" fill="rgb(220,76,16)"/>
<circle cx="292.2" cy="165.3" r="1.3" fill="rgb(220,76,16)"/>
<text x="172.4" y="263.41" font-size="8.3">10</text>
<text x="175.9" y="247.21" font-size="8.3">15</text>
<text x="180.55" y="234.41" font-size="8.3">20</text>
<text x="184.55" y="224.31" font-size="8.3">25</text>
<text x="186.57" y="214.31" font-size="8.3">30</text>
<text x="192.27" y="206.11" font-size="8.3">35</text>
<text x="195.71" y="198.81" font-size="8.3">40</text>
<text x="200.61" y="190.61" font-size="8.3">45</text>
<text x="201.77" y="177.91" font-size="8.3">50</text>
<text x="212.17" y="177.91" font-size="8.3">55</text>
<text x="228.97" y="177.01" font-size="8.3">60</text>
<text x="255.37" y="174.51" font-size="8.3">65</text>
<text x="276.08" y="165.31" font-size="8.3">70</text>
<text x="288.48" y="164.31" font-size="8.3">75</text>
<rect x="170.45" y="138.6" width="131.75" height="126.6" fill="none" stroke="#262626" stroke-width="0.9"/>
<rect x="647.3" y="3.5" width="37" height="102.1" fill="#fff" stroke="#262626" stroke-width="1.3"/>
<line x1="649" x2="663" y1="11.85" y2="11.85" stroke="rgb(52,118,184)" stroke-width="1.6" stroke-dasharray="4.7 1.2 2.6 1.3"/>
<text x="663.7" y="16.05" font-size="11.1">50</text>
<line x1="649" x2="663" y1="26.18" y2="26.18" stroke="rgb(162,30,42)" stroke-width="1.6" stroke-dasharray="4.7 1.2 2.6 1.3"/>
<text x="663.7" y="30.38" font-size="11.1">75</text>
<line x1="649" x2="663" y1="40.51" y2="40.51" stroke="rgb(220,76,16)" stroke-width="1.6" stroke-dasharray="4.7 1.2 2.6 1.3"/>
<text x="663.7" y="44.71" font-size="11.1">100</text>
<line x1="649" x2="663" y1="54.84" y2="54.84" stroke="rgb(125,192,228)" stroke-width="1.6" stroke-dasharray="4.7 1.2 2.6 1.3"/>
<text x="663.7" y="59.04" font-size="11.1">150</text>
<line x1="649" x2="663" y1="69.17" y2="69.17" stroke="rgb(239,178,4)" stroke-width="1.6" stroke-dasharray="4.7 1.2 2.6 1.3"/>
<text x="663.7" y="73.37" font-size="11.1">200</text>
<line x1="649" x2="663" y1="83.5" y2="83.5" stroke="rgb(135,25,165)" stroke-width="1.6" stroke-dasharray="4.7 1.2 2.6 1.3"/>
<text x="663.7" y="87.7" font-size="11.1">300</text>
<line x1="649" x2="663" y1="97.83" y2="97.83" stroke="rgb(130,180,25)" stroke-width="1.6" stroke-dasharray="4.7 1.2 2.6 1.3"/>
<text x="663.7" y="102.03" font-size="11.1">400</text>
</svg>
</body></html>
